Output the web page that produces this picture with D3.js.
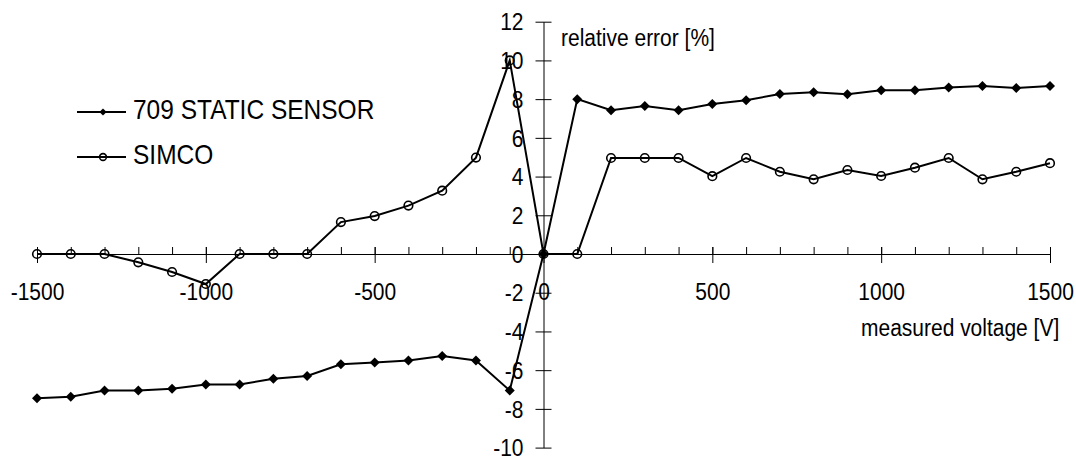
<!DOCTYPE html>
<html>
<head>
<meta charset="utf-8">
<script src="https://cdn.jsdelivr.net/npm/d3@7"></script>
<style>
  body { margin: 0; background: #fff; }
  text { font-family: "Liberation Sans", Arial, sans-serif; fill: #000; }
  .axis path, .axis line { stroke: #000; stroke-width: 1; }
</style>
</head>
<body>
<svg id="chart" width="1076" height="456"></svg>
<script>
        // data
        const voltage = [-1500, -1400, -1300, -1200, -1100, -1000, -900, -800, -700, -600, -500, -400, -300, -200, -100,
                         0, 100, 200, 300, 400, 500, 600, 700, 800, 900, 1000, 1100, 1200, 1300, 1400, 1500];
        const sensor709 = [-7.45, -7.37, -7.05, -7.05, -6.96, -6.74, -6.74, -6.44, -6.3, -5.7, -5.6, -5.5, -5.27, -5.5, -7.05,
                           0, 8.0, 7.43, 7.65, 7.43, 7.75, 7.94, 8.27, 8.36, 8.25, 8.46, 8.46, 8.6, 8.68, 8.58, 8.68];
        const simco = [0, 0, 0, -0.43, -0.93, -1.55, 0, 0, 0, 1.65, 1.96, 2.5, 3.27, 4.98, 10.0,
                       0, 0, 4.96, 4.96, 4.96, 4.02, 4.96, 4.25, 3.86, 4.34, 4.03, 4.46, 4.96, 3.86, 4.25, 4.69];
        const seriesNames = ['709 STATIC SENSOR', 'SIMCO'];
        const xTicks = [-1500, -1000, -500, 0, 500, 1000, 1500];
        const yTicks = [12, 10, 8, 6, 4, 2, 0, -2, -4, -6, -8, -10];

        const svg = d3.select('#chart');
        const stretch = 'scale(1,1.15)';   // the original text is a bit tall and narrow
        const plain = d => String(d);      // plain hyphen, no thousands comma

        const xScale = d3.scaleLinear()
                            .domain([-1500, 1500])
                            .range([37, 1050]);
        const yScale = d3.scaleLinear()
                            .domain([-10, 12])
                            .range([447.6, 21.7]);

        const x0 = xScale(0), y0 = yScale(0);

        // x axis: minor ticks every 100 (upwards), major every 500 (crossing)
        svg.append('g').attr('class', 'axis')
            .attr('transform', `translate(0,${y0})`)
            .call(d3.axisBottom(xScale).tickValues(voltage).tickSize(-7).tickSizeOuter(0).tickFormat(''))
            .select('.domain').remove();
        const gX = svg.append('g').attr('class', 'axis')
            .attr('transform', `translate(0,${y0})`)
            .call(d3.axisBottom(xScale).tickValues(xTicks).tickFormat(plain)
                    .tickSize(9).tickSizeOuter(0).tickPadding(16.5));
        gX.selectAll('.tick line').attr('y1', -7);
        gX.selectAll('text')
            .style('font-size', '21px')
            .attr('transform', stretch);

        // y axis: crossing ticks
        const gY = svg.append('g').attr('class', 'axis')
            .attr('transform', `translate(${x0},0)`)
            .call(d3.axisLeft(yScale).tickValues(yTicks).tickFormat(plain)
                    .tickSize(8).tickSizeOuter(0).tickPadding(12));
        gY.selectAll('.tick line').attr('x2', 8).attr('x1', -8);
        gY.selectAll('text')
            .style('font-size', '21px')
            .attr('dy', '0.34em')
            .attr('transform', stretch);

        // axis titles
        svg.append('text')
            .attr('transform', `translate(561,45.5) ${stretch}`)
            .style('font-size', '21px')
            .text('relative error [%]');
        svg.append('text')
            .attr('transform', `translate(861,336) ${stretch}`)
            .style('font-size', '21px')
            .text('measured voltage [V]');

        const line = d3.line()
                        .x((d, i) => xScale(voltage[i]))
                        .y(d => yScale(d));

        const diamond = d3.symbol().type(d3.symbolSquare).size(50);
        const diamondSmall = d3.symbol().type(d3.symbolSquare).size(26);

        // SIMCO
        svg.append('path')
            .datum(simco)
            .attr('d', line)
            .attr('fill', 'none')
            .attr('stroke', '#000')
            .attr('stroke-width', 2);
        svg.selectAll('circle.simco')
            .data(simco)
            .enter()
            .append('circle')
            .attr('class', 'simco')
            .attr('cx', (d, i) => xScale(voltage[i]))
            .attr('cy', d => yScale(d))
            .attr('r', 4.3)
            .attr('fill', 'none')
            .attr('stroke', '#000')
            .attr('stroke-width', 1.6);

        // 709 static sensor
        svg.append('path')
            .datum(sensor709)
            .attr('d', line)
            .attr('fill', 'none')
            .attr('stroke', '#000')
            .attr('stroke-width', 2);
        svg.selectAll('path.s709')
            .data(sensor709)
            .enter()
            .append('path')
            .attr('class', 's709')
            .attr('d', diamond)
            .attr('transform', (d, i) => `translate(${xScale(voltage[i])},${yScale(d)}) rotate(45)`)
            .attr('fill', '#000');

        // legend
        const legend = svg.selectAll('g.legend')
                        .data(seriesNames)
                        .enter()
                        .append('g')
                        .attr('class', 'legend')
                        .attr('transform', (d, i) => `translate(77,${112 + i * 45})`);
        legend.append('line')
            .attr('x1', 0).attr('x2', 49)
            .attr('stroke', '#000').attr('stroke-width', 2);
        legend.filter((d, i) => i === 0).append('path')
            .attr('d', diamondSmall)
            .attr('transform', 'translate(26,0) rotate(45)')
            .attr('fill', '#000');
        legend.filter((d, i) => i === 1).append('circle')
            .attr('cx', 26).attr('r', 3.4)
            .attr('fill', 'none')
            .attr('stroke', '#000').attr('stroke-width', 1.6);
        legend.append('text')
            .attr('transform', `translate(56,6.5) ${stretch}`)
            .style('font-size', '24.5px')
            .text(d => d);
</script>
</body>
</html>
